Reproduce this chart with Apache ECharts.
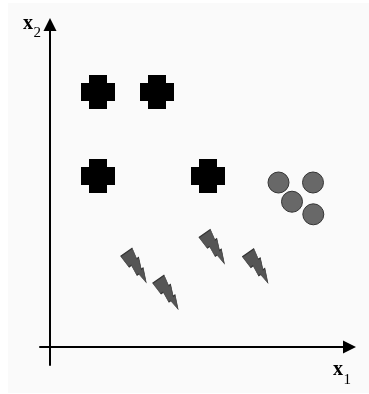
<!DOCTYPE html>
<html>
<head>
<meta charset="utf-8">
<script src="https://cdn.jsdelivr.net/npm/echarts@6/dist/echarts.min.js"></script>
<style>
  html, body { margin: 0; padding: 0; background: #ffffff; }
  #chart { position: absolute; left: 8px; top: 3px; width: 361px; height: 390px; }
</style>
</head>
<body>
<div id="chart"></div>
<script>
// class 1: black crosses
const crossX = [4.8, 10.7, 4.8, 15.8]
const crossY = [25.5, 25.5, 17.1, 17.1]
// class 2: grey circles
const circleX = [22.85, 26.3, 24.2, 26.33]
const circleY = [16.45, 16.45, 14.53, 13.27]
// class 3: lightning bolts
const boltX = [8.68, 11.87, 16.5, 20.85]
const boltY = [8.0, 5.31, 9.88, 7.95]
// axis labels
const xName = ['x', '1']
const yName = ['x', '2']

const crossPath = 'path://M8,0 H26 V8 H34 V26 H26 V34 H8 V26 H0 V8 H8 Z'
const boltPath = 'path://M0,0 L12,0 L10,10 L12,10 L8,20 L10,20 L5,32 L4,22 L2,22 L3,12 L0.5,12 Z'

function pairs (xs, ys) {
  return xs.map(function (x, i) { return [x, ys[i]] })
}

const serif = '"Liberation Serif", "DejaVu Serif", serif'

let myChart = echarts.init(document.getElementById('chart'))
let option = {
  animation: false,
  backgroundColor: '#fafafa',
  grid: { left: 32, right: 19.5, top: 21.5, bottom: 28 },
  xAxis: {
    type: 'value',
    min: -1,
    max: 29.95,
    splitLine: { show: false },
    axisTick: { show: false },
    axisLabel: { show: false },
    axisLine: {
      onZero: true,
      symbol: ['none', 'triangle'],
      symbolSize: [13, 13],
      lineStyle: { color: '#000', width: 2 }
    }
  },
  yAxis: {
    type: 'value',
    min: -1.8,
    max: 32.25,
    splitLine: { show: false },
    axisTick: { show: false },
    axisLabel: { show: false },
    axisLine: {
      onZero: true,
      symbol: ['none', 'triangle'],
      symbolSize: [13, 13],
      lineStyle: { color: '#000', width: 2 }
    }
  },
  series: [{
    type: 'scatter',
    data: pairs(crossX, crossY),
    symbol: crossPath,
    symbolSize: 34,
    itemStyle: { color: '#000', opacity: 1 }
  }, {
    type: 'scatter',
    data: pairs(circleX, circleY),
    symbol: 'circle',
    symbolSize: 21,
    itemStyle: { color: '#686868', borderColor: '#333', borderWidth: 1, opacity: 1 }
  }, {
    type: 'scatter',
    data: pairs(boltX, boltY),
    symbol: boltPath,
    symbolSize: [14, 36],
    symbolRotate: 35,
    itemStyle: { color: '#555', borderColor: '#333', borderWidth: 0.8, opacity: 1 }
  }],
  graphic: [
    { type: 'text', x: 15, y: 21.2, style: { text: yName[0], font: 'bold 20px ' + serif, fill: '#000', verticalAlign: 'middle' } },
    { type: 'text', x: 25.5, y: 29.8, style: { text: yName[1], font: '15px ' + serif, fill: '#000', verticalAlign: 'middle' } },
    { type: 'text', x: 325, y: 367.2, style: { text: xName[0], font: 'bold 20px ' + serif, fill: '#000', verticalAlign: 'middle' } },
    { type: 'text', x: 335.5, y: 376.8, style: { text: xName[1], font: '15px ' + serif, fill: '#000', verticalAlign: 'middle' } }
  ]
}
myChart.setOption(option)
</script>
</body>
</html>
